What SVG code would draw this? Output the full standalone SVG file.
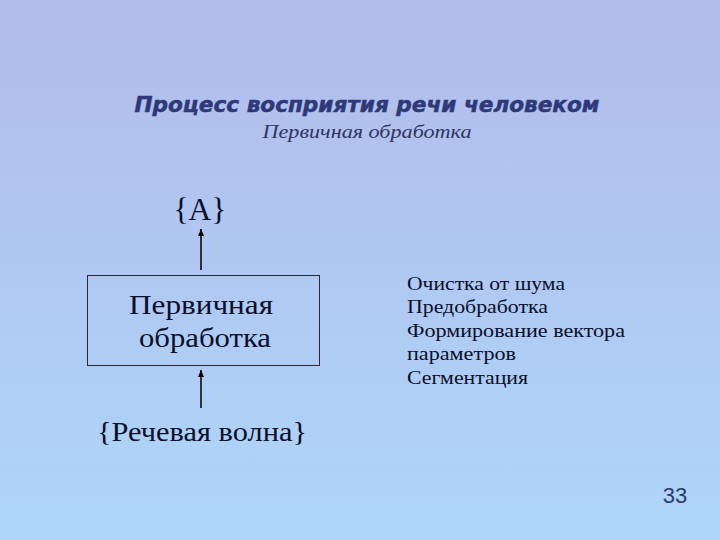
<svg xmlns="http://www.w3.org/2000/svg" width="720" height="540" viewBox="0 0 720 540">
<defs>
<linearGradient id="bg" x1="0" y1="0" x2="0" y2="1">
<stop offset="0" stop-color="#b2bbea"/>
<stop offset="1" stop-color="#aed6f9"/>
</linearGradient>
<marker id="ah" markerWidth="8" markerHeight="8" refX="7" refY="4" orient="auto" markerUnits="userSpaceOnUse">
<path d="M0,1 L7,4 L0,7 Z" fill="#000"/>
</marker>
<style>
.title{font-family:"DejaVu Sans",Verdana,sans-serif;font-weight:bold;font-style:italic;font-size:21px;fill:#2f3878;stroke:#2f3878;stroke-width:0.5}
.sub{font-family:"Liberation Serif",serif;font-style:italic;font-size:18px;fill:#2f3560}
.t{font-family:"Liberation Serif","Times New Roman",serif;fill:#0a0f2a}
.conn{stroke:#000;stroke-width:1.5;fill:none;marker-end:url(#ah)}
</style>
</defs>
<rect width="720" height="540" fill="url(#bg)"/>
<text class="title" x="367" y="112" text-anchor="middle" textLength="465" lengthAdjust="spacingAndGlyphs">Процесс восприятия речи человеком</text>
<text class="sub" x="367" y="138" text-anchor="middle" textLength="209" lengthAdjust="spacingAndGlyphs">Первичная обработка</text>
<g id="nodeA"><text class="t" x="200" y="220" font-size="31" text-anchor="middle" textLength="53" lengthAdjust="spacingAndGlyphs">{A}</text></g>
<g id="nodeBox">
<rect x="87.5" y="275.5" width="232" height="90" fill="none" stroke="#2a2a3a" stroke-width="1"/>
<text class="t" x="201" y="314" font-size="28" text-anchor="middle" textLength="144" lengthAdjust="spacingAndGlyphs">Первичная</text>
<text class="t" x="205" y="347" font-size="28" text-anchor="middle" textLength="132" lengthAdjust="spacingAndGlyphs">обработка</text>
</g>
<g id="nodeWave"><text class="t" x="202" y="441" font-size="27" text-anchor="middle" textLength="210" lengthAdjust="spacingAndGlyphs">{Речевая волна}</text></g>
<g id="connectors">
<line class="conn" x1="201" y1="270" x2="201" y2="229"/>
<line class="conn" x1="201" y1="408" x2="201" y2="370"/>
</g>
<g id="list">
<text class="t" x="407" y="290" font-size="19" textLength="158" lengthAdjust="spacingAndGlyphs">Очистка от шума</text>
<text class="t" x="407" y="313" font-size="19" textLength="141" lengthAdjust="spacingAndGlyphs">Предобработка</text>
<text class="t" x="407" y="337" font-size="19" textLength="218" lengthAdjust="spacingAndGlyphs">Формирование вектора</text>
<text class="t" x="407" y="360" font-size="19" textLength="109" lengthAdjust="spacingAndGlyphs">параметров</text>
<text class="t" x="407" y="384" font-size="19" textLength="121" lengthAdjust="spacingAndGlyphs">Сегментация</text>
</g>
<text x="675" y="503" text-anchor="middle" font-family="Liberation Sans,Arial,sans-serif" font-size="22" fill="#2c3a6e">33</text>
</svg>
